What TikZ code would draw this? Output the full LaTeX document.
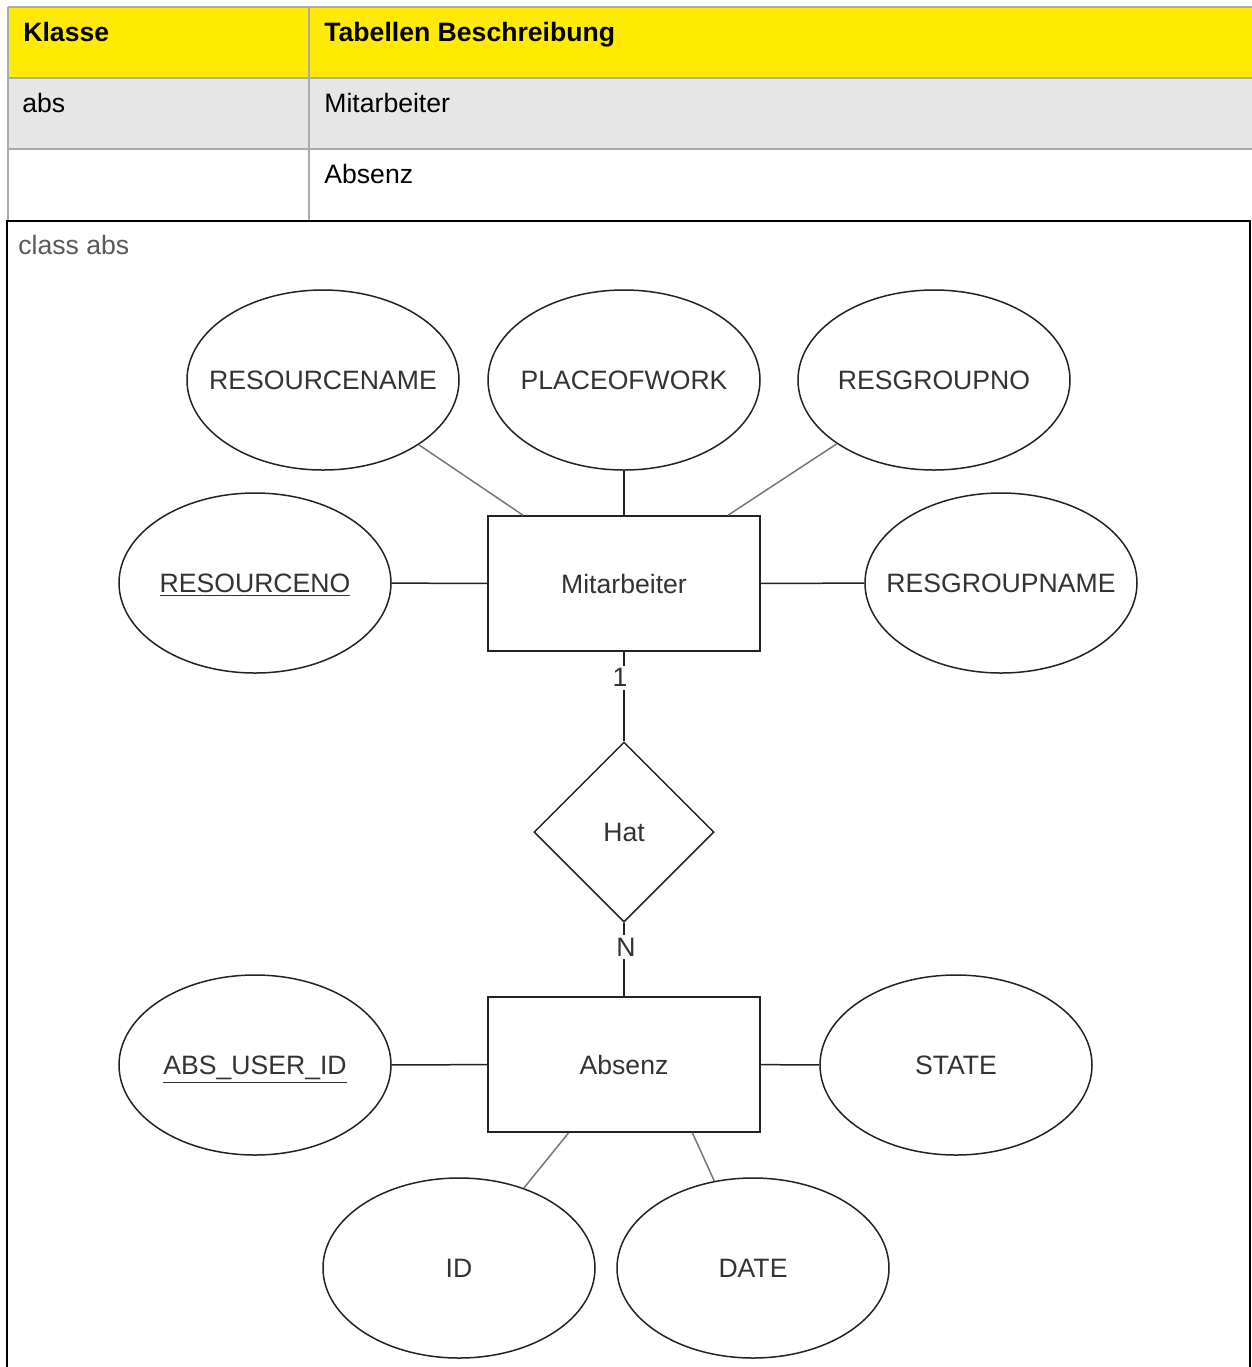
\documentclass[tikz,border=0pt]{standalone}
\usepackage{fontspec}
\setmainfont{Liberation Sans}
\usetikzlibrary{shapes.geometric,calc}
\definecolor{headyellow}{HTML}{FFEB00}
\definecolor{rowgray}{HTML}{E6E6E6}
\definecolor{gridgray}{HTML}{AAAAAA}
\definecolor{inkgray}{HTML}{333333}
\definecolor{edgegray}{HTML}{222222}
\definecolor{slantgray}{HTML}{777777}
% centred label that does not widen its shape
\newcommand{\lbl}[1]{\makebox[0pt][c]{#1}}
\begin{document}
\begin{tikzpicture}[x=0.5pt,y=-0.5pt,
  txt/.style={font=\fontsize{13.3}{16}\selectfont},
  cell/.style={txt,anchor=base west,inner sep=0pt,text=black},
  fixed/.style={text height=9.5pt,text depth=0pt},
  attr/.style={ellipse,draw=edgegray,line width=0.75pt,minimum width=136pt,minimum height=90pt,inner sep=0pt,txt,fixed,text=inkgray},
  entity/.style={rectangle,draw=edgegray,line width=0.75pt,minimum width=136pt,minimum height=67.5pt,inner sep=0pt,txt,fixed,text=inkgray},
  relation/.style={diamond,draw=edgegray,line width=0.75pt,minimum width=90pt,minimum height=90pt,inner sep=0pt,txt,fixed,text=inkgray},
  link/.style={draw=edgegray,line width=0.75pt},
  slant/.style={draw=slantgray,line width=0.75pt},
  card/.style={fill=white,inner sep=1.5pt,txt,text=inkgray}]
\useasboundingbox (0,0) rectangle (1252,1367);

% overview table
\fill[headyellow] (8,7) rectangle (1252,78);
\fill[rowgray] (8,78) rectangle (1252,149);
\draw[gridgray,line width=0.6pt] (8,7) -- (1252,7) (8,78) -- (1252,78) (8,149) -- (1252,149);
\draw[gridgray,line width=0.6pt] (8,7) -- (8,221) (309,7) -- (309,221);
\node[cell,font=\fontsize{13.3}{16}\selectfont\bfseries] (hk) at (23,41) {Klasse};
\node[cell,font=\fontsize{13.3}{16}\selectfont\bfseries] (hb) at (324,41) {Tabellen Beschreibung};
\node[cell] (ka) at (22,112) {abs};
\node[cell] (tm) at (324,112) {Mitarbeiter};
\node[cell] (ta) at (324,183) {Absenz};

% diagram frame
\draw[black,line width=1.1pt] (7,1367) -- (7,221) -- (1250,221) -- (1250,1367);
\node[txt,anchor=base west,inner sep=0pt,text=black!65] (cls) at (18,254) {class abs};

% entities and relationship
\node[entity] (mit) at (624,583.5) {Mitarbeiter};
\node[relation] (hat) at (624,832) {Hat};
\node[entity] (abz) at (624,1064.5) {Absenz};

% attributes of Mitarbeiter
\node[attr] (rname) at (323,380) {\lbl{RESOURCENAME}};
\node[attr] (pwork) at (624,380) {\lbl{PLACEOFWORK}};
\node[attr] (rgno) at (934,380) {\lbl{RESGROUPNO}};
\node[attr] (rno) at (255,583) {\lbl{\underline{RESOURCENO}}};
\node[attr] (rgname) at (1001,583) {\lbl{RESGROUPNAME}};

% attributes of Absenz
\node[attr] (uid) at (255,1065) {\lbl{\underline{ABS\_USER\_ID}}};
\node[attr] (state) at (956,1065) {\lbl{STATE}};
\node[attr] (id) at (459,1268) {\lbl{ID}};
\node[attr] (date) at (753,1268) {\lbl{DATE}};

% connectors
\path[slant] (rname) -- (mit);
\path[link] (pwork) -- (mit);
\path[slant] (rgno) -- (mit);
\path[link] (rno) -- (mit);
\path[link] (rgname) -- (mit);
\path[link] (mit) -- node[card,pos=0.29,xshift=-2pt] (c1) {1} (hat);
\path[link] (hat) -- node[card,pos=0.33,xshift=1pt] (cn) {N} (abz);
\path[link] (uid) -- (abz);
\path[link] (state) -- (abz);
\path[slant] (id) -- (abz);
\path[slant] (date.114) -- ($(abz.south west)!0.75!(abz.south east)$);
\end{tikzpicture}
\end{document}
